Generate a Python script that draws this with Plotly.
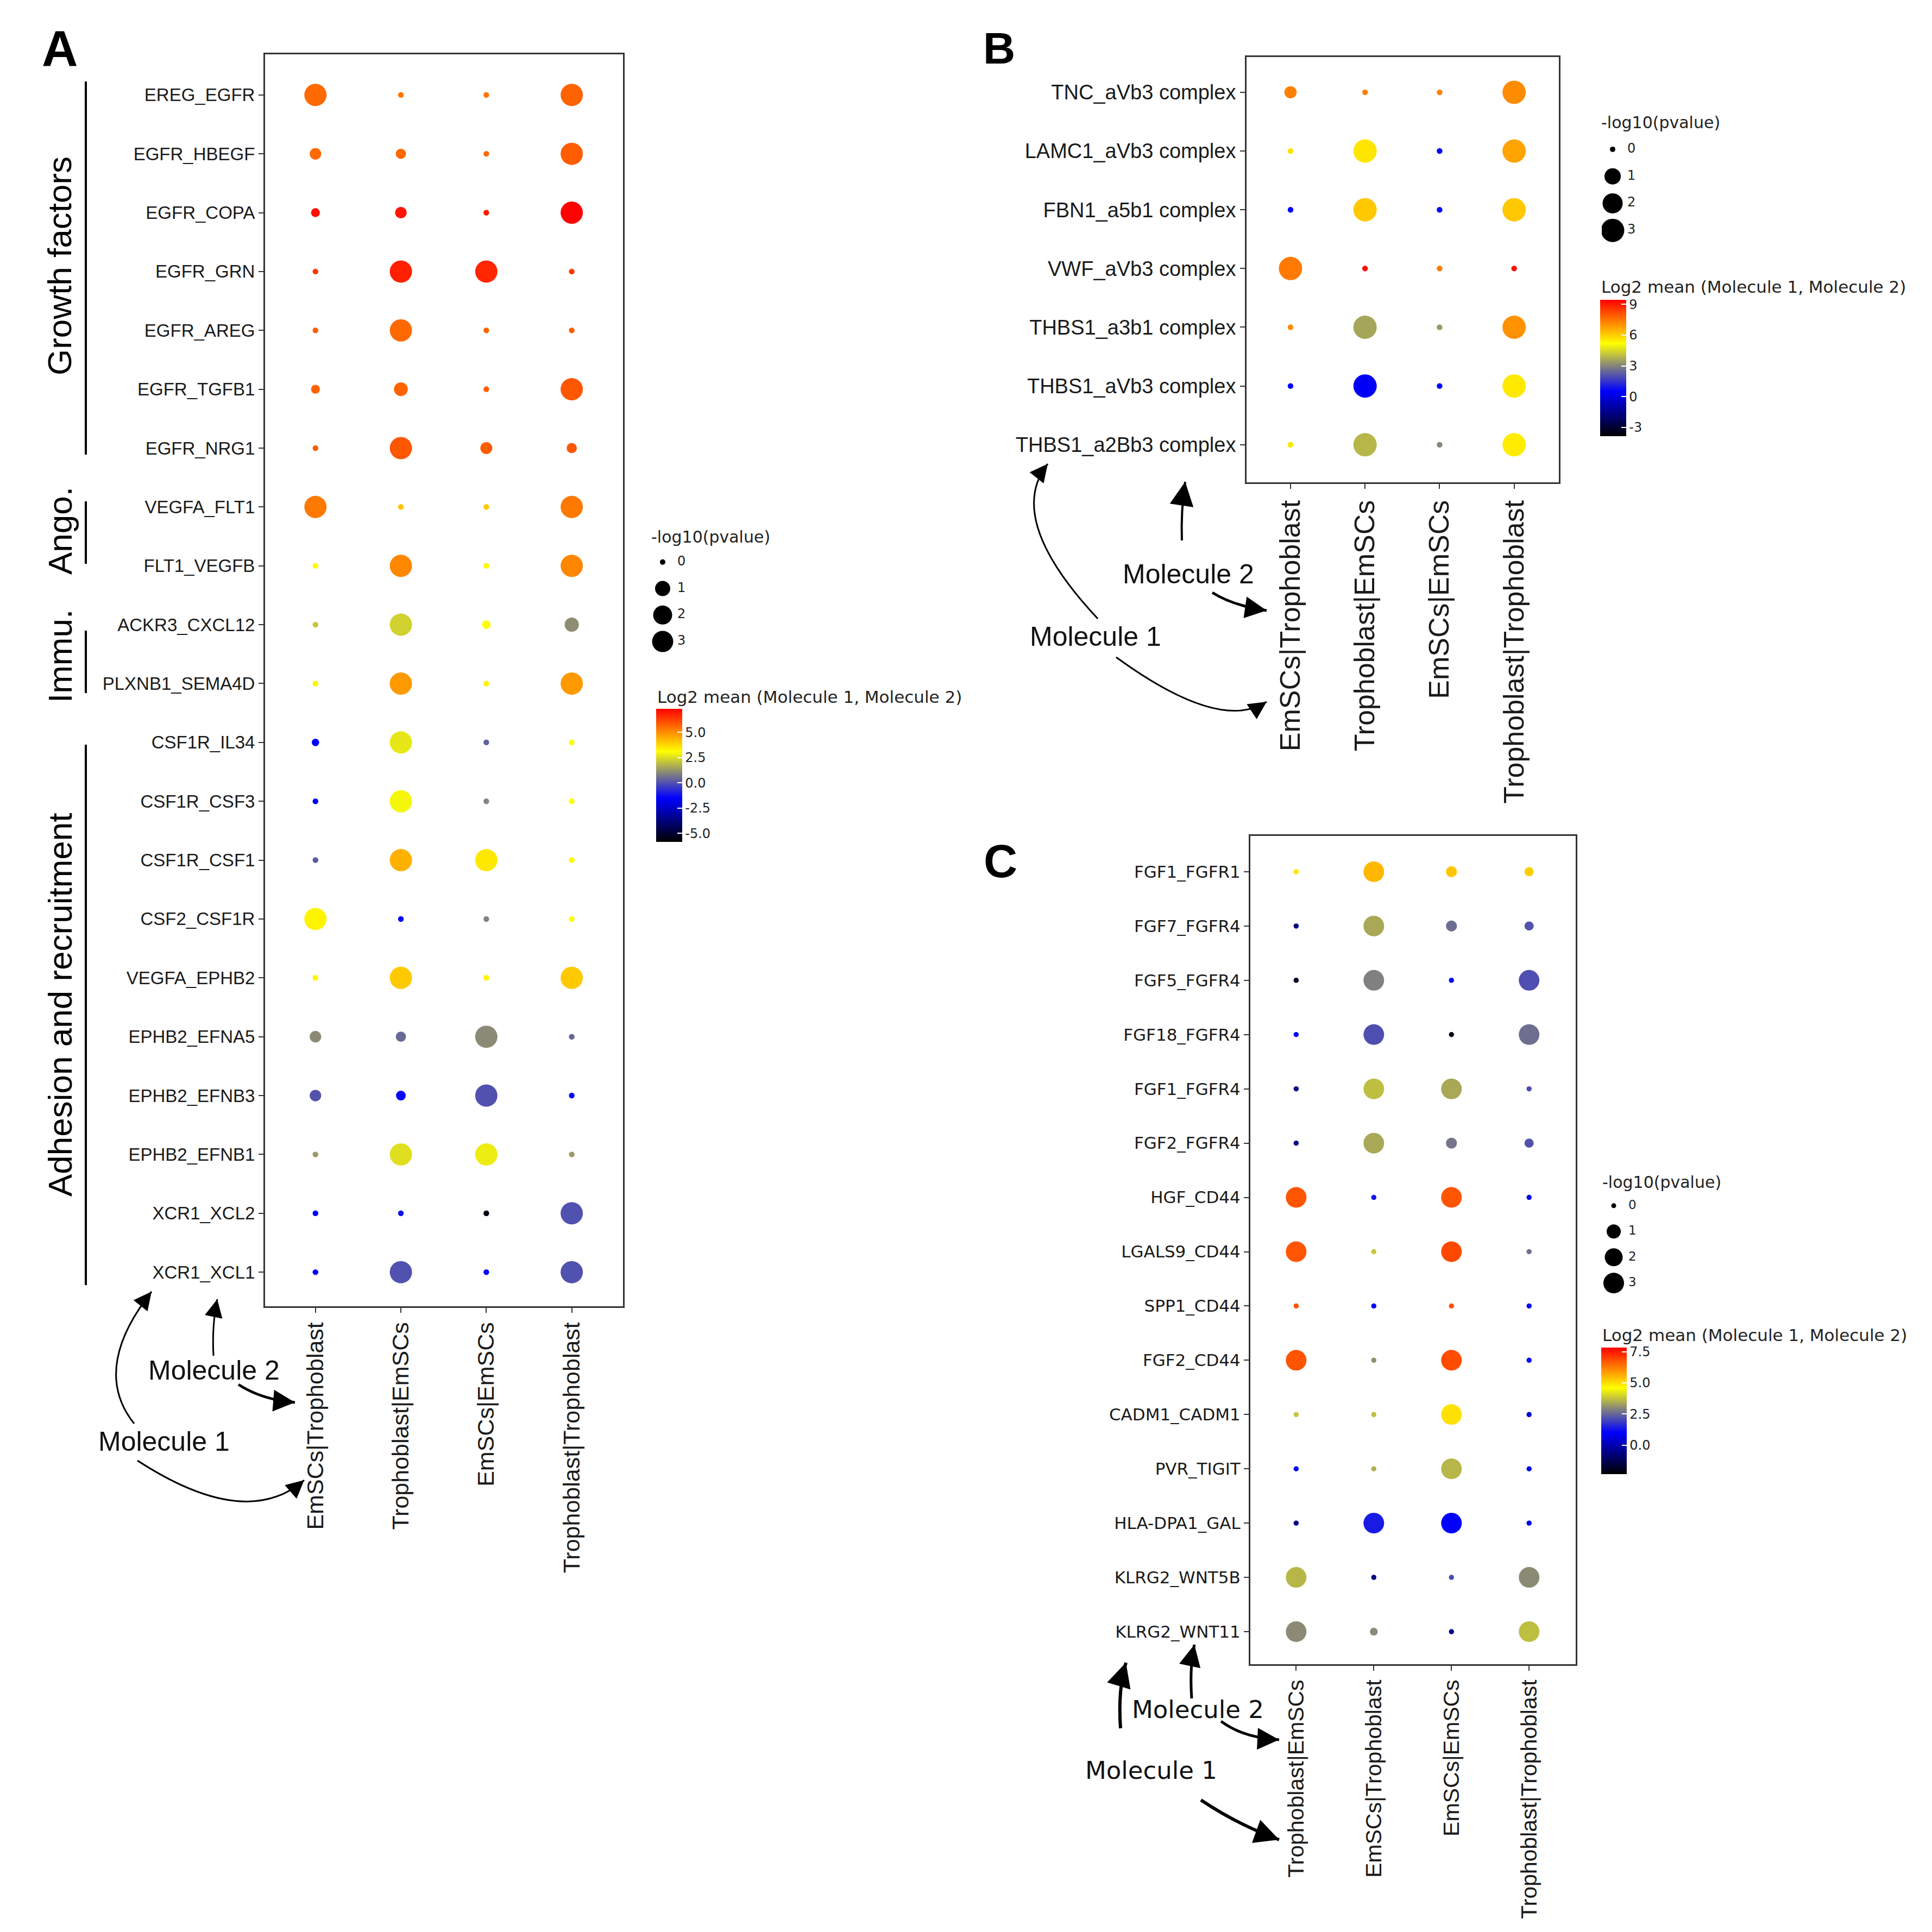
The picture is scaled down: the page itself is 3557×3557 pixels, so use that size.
import numpy as np
import plotly.graph_objects as go

W = H = 3557
OFF = 8  # default page margin of the browser body

# ---------------- Panel A data ----------------
A_PAIRS = ["EREG_EGFR", "EGFR_HBEGF", "EGFR_COPA", "EGFR_GRN", "EGFR_AREG", "EGFR_TGFB1",
           "EGFR_NRG1", "VEGFA_FLT1", "FLT1_VEGFB", "ACKR3_CXCL12", "PLXNB1_SEMA4D",
           "CSF1R_IL34", "CSF1R_CSF3", "CSF1R_CSF1", "CSF2_CSF1R", "VEGFA_EPHB2",
           "EPHB2_EFNA5", "EPHB2_EFNB3", "EPHB2_EFNB1", "XCR1_XCL2", "XCR1_XCL1"]
A_CLUSTERS = ["EmSCs|Trophoblast", "Trophoblast|EmSCs", "EmSCs|EmSCs", "Trophoblast|Trophoblast"]
A_MEAN = [
    [5.6, 5.4, 5.4, 5.7],
    [5.6, 5.6, 5.6, 5.8],
    [7.1, 7.0, 6.9, 7.3],
    [6.4, 6.8, 6.7, 6.4],
    [5.8, 5.6, 5.7, 5.8],
    [5.7, 5.7, 5.8, 5.9],
    [5.8, 5.9, 5.8, 5.9],
    [5.35, 4.1, 4.0, 5.35],
    [3.2, 5.1, 3.2, 5.1],
    [2.1, 2.3, 3.1, 1.1],
    [3.3, 4.8, 3.3, 4.8],
    [-1.6, 2.7, 0.3, 3.1],
    [-1.6, 2.95, 0.95, 3.1],
    [0.2, 4.4, 3.5, 3.2],
    [3.3, -1.6, 0.95, 3.2],
    [3.3, 4.0, 3.3, 4.0],
    [1.06, 0.45, 1.06, 0.4],
    [0.05, -1.4, 0.0, -1.5],
    [1.35, 2.55, 2.8, 1.35],
    [-1.5, -1.2, -5.5, 0.0],
    [-1.5, 0.0, -1.5, 0.0],
]
A_LOGP = [
    [3, 0, 0, 3],
    [0.65, 0.5, 0, 3],
    [0.35, 0.65, 0, 3],
    [0, 3, 3, 0],
    [0, 3, 0, 0],
    [0.35, 0.9, 0, 3],
    [0, 3, 0.7, 0.5],
    [3, 0, 0, 3],
    [0, 3, 0, 3],
    [0, 3, 0.3, 0.95],
    [0, 3, 0, 3],
    [0.2, 3, 0, 0],
    [0, 3, 0, 0],
    [0, 3, 3, 0],
    [3, 0, 0, 0],
    [0, 3, 0, 3],
    [0.65, 0.5, 3, 0],
    [0.65, 0.45, 3, 0],
    [0, 3, 3, 0],
    [0, 0, 0, 3],
    [0, 3, 0, 3],
]

# ---------------- Panel B data ----------------
B_PAIRS = ["TNC_aVb3 complex", "LAMC1_aVb3 complex", "FBN1_a5b1 complex", "VWF_aVb3 complex",
           "THBS1_a3b1 complex", "THBS1_aVb3 complex", "THBS1_a2Bb3 complex"]
B_CLUSTERS = ["EmSCs|Trophoblast", "Trophoblast|EmSCs", "EmSCs|EmSCs", "Trophoblast|Trophoblast"]
B_MEAN = [
    [7.3, 7.3, 7.3, 7.1],
    [5.7, 5.6, 0.5, 6.7],
    [0.5, 6.1, 0.5, 6.1],
    [7.4, 9.2, 7.4, 9.2],
    [7.1, 3.6, 3.4, 7.0],
    [0.5, 0.4, 0.5, 5.55],
    [5.6, 3.9, 3.06, 5.5],
]
B_LOGP = [
    [0.65, 0, 0, 3],
    [0, 3, 0, 3],
    [0, 3, 0, 3],
    [3, 0, 0, 0],
    [0, 3, 0, 3],
    [0, 3, 0, 3],
    [0, 3, 0, 3],
]

# ---------------- Panel C data ----------------
C_PAIRS = ["FGF1_FGFR1", "FGF7_FGFR4", "FGF5_FGFR4", "FGF18_FGFR4", "FGF1_FGFR4", "FGF2_FGFR4",
           "HGF_CD44", "LGALS9_CD44", "SPP1_CD44", "FGF2_CD44", "CADM1_CADM1", "PVR_TIGIT",
           "HLA-DPA1_GAL", "KLRG2_WNT5B", "KLRG2_WNT11"]
C_CLUSTERS = ["Trophoblast|EmSCs", "EmSCs|Trophoblast", "EmSCs|EmSCs", "Trophoblast|Trophoblast"]
C_MEAN = [
    [4.9, 5.5, 5.3, 5.2],
    [-0.6, 3.4, 2.6, 2.2],
    [-1.9, 2.85, 1.0, 2.15],
    [0.9, 2.15, -2.1, 2.6],
    [-0.6, 3.7, 3.4, 2.1],
    [-0.6, 3.4, 2.7, 2.2],
    [6.75, 1.3, 6.75, 0.8],
    [6.75, 3.8, 6.9, 2.6],
    [6.8, 0.9, 6.8, 0.9],
    [6.75, 3.05, 6.85, 0.9],
    [3.8, 3.7, 4.96, 0.6],
    [0.8, 3.5, 3.6, 0.8],
    [-0.5, 1.4, 1.0, 0.8],
    [3.6, -0.6, 2.1, 3.0],
    [3.0, 3.0, -0.6, 3.7],
]
C_LOGP = [
    [0, 3, 0.65, 0.45],
    [0, 3, 0.65, 0.45],
    [0, 3, 0, 3],
    [0, 3, 0, 3],
    [0, 3, 3, 0],
    [0, 3, 0.65, 0.45],
    [3, 0, 3, 0],
    [3, 0, 3, 0],
    [0, 0, 0, 0],
    [3, 0, 3, 0],
    [0, 0, 3, 0],
    [0, 0, 3, 0],
    [0, 3, 3, 0],
    [3, 0, 0, 3],
    [3, 0.3, 0, 3],
]

LEGEND_VALUES = [0, 1, 2, 3]
A_CBAR_TICKS = [-5.0, -2.5, 0.0, 2.5, 5.0]
B_CBAR_TICKS = [-3, 0, 3, 6, 9]
C_CBAR_TICKS = [0.0, 2.5, 5.0, 7.5]

# ---------------- styling helpers ----------------
CSCALE = [[0, "#000000"], [0.33, "#0000FF"], [0.51, "#808080"], [0.68, "#FFFF00"], [1, "#FF0000"]]
SANS = "Liberation Sans, Arial, sans-serif"
DJV = "DejaVu Sans, sans-serif"


def size_fn(vals, rng):
    return list(np.interp(np.asarray(vals, dtype=float), [0, 1, 2, 3], rng))


def px(x):
    return (x - OFF) / W


def py(y):
    return 1 - (y - OFF) / H


fig = go.Figure()


def add_panel(pairs, clusters, mean, logp, xa, ya, cax, srng):
    xs, ys, cs, ss = [], [], [], []
    for i, p in enumerate(pairs):
        for j, c in enumerate(clusters):
            xs.append(c)
            ys.append(p)
            cs.append(mean[i][j])
            ss.append(logp[i][j])
    fig.add_trace(go.Scatter(
        x=xs, y=ys, mode="markers", xaxis=xa, yaxis=ya, showlegend=False,
        marker=dict(size=size_fn(ss, srng), color=cs, coloraxis=cax, line=dict(width=0), opacity=1),
        hoverinfo="skip"))


SR_A = [10.5, 27, 34, 41]
SR_B = [10.5, 29, 36, 43]
SR_C = [9.5, 26, 33, 38]

add_panel(A_PAIRS, A_CLUSTERS, A_MEAN, A_LOGP, "x", "y", "coloraxis", SR_A)
add_panel(B_PAIRS, B_CLUSTERS, B_MEAN, B_LOGP, "x2", "y2", "coloraxis2", SR_B)
add_panel(C_PAIRS, C_CLUSTERS, C_MEAN, C_LOGP, "x3", "y3", "coloraxis3", SR_C)


def add_size_legend(xa, ya, srng, fsize):
    fig.add_trace(go.Scatter(
        x=[0] * len(LEGEND_VALUES), y=LEGEND_VALUES, mode="markers", xaxis=xa, yaxis=ya,
        showlegend=False, hoverinfo="skip",
        marker=dict(size=size_fn(LEGEND_VALUES, srng), color="#000000", opacity=1,
                    line=dict(width=0))))
    fig.add_trace(go.Scatter(
        x=[0.27] * len(LEGEND_VALUES), y=LEGEND_VALUES, mode="text", xaxis=xa, yaxis=ya,
        text=[str(v) for v in LEGEND_VALUES], textposition="middle right",
        textfont=dict(size=fsize, family=DJV, color="#222"), showlegend=False, hoverinfo="skip"))


add_size_legend("x4", "y4", [10, 28, 35, 39], 24)
add_size_legend("x5", "y5", [10, 30, 37, 43], 24)
add_size_legend("x6", "y6", [9, 26, 33, 38], 23)

AX_LINE = dict(showline=True, mirror=True, linecolor="#333333", linewidth=3, ticks="outside",
               ticklen=9, tickwidth=2, tickcolor="#333333", showgrid=False, zeroline=False,
               fixedrange=True)


def cat_x(domain, cats, fsize, anchor):
    return dict(domain=domain, type="category", categoryorder="array", categoryarray=cats,
                range=[-0.59, len(cats) - 1 + 0.6], tickangle=-90, anchor=anchor,
                tickfont=dict(size=fsize, family=SANS, color="#1a1a1a"), **AX_LINE)


def cat_y(domain, cats, fsize, anchor, top, bot, fam=SANS):
    return dict(domain=domain, type="category", categoryorder="array", categoryarray=cats,
                range=[len(cats) - 1 + bot, -top], anchor=anchor,
                tickfont=dict(size=fsize, family=fam, color="#1a1a1a"), **AX_LINE)


def hidden(domain, rng, anchor):
    return dict(domain=domain, range=rng, visible=False, anchor=anchor, fixedrange=True)


def cbar(x, ytop, length, thick, ticks, labels):
    return dict(x=px(x), xanchor="left", y=py(ytop), yanchor="top", len=length, lenmode="pixels",
                thickness=thick, thicknessmode="pixels", xpad=0, ypad=0, outlinewidth=0,
                tickvals=ticks, ticktext=labels, ticks="inside", tickcolor="white", ticklen=9,
                tickwidth=2, tickfont=dict(size=24, family=DJV, color="#222"), title=dict(text=""))


layout = dict(
    width=W, height=H, margin=dict(l=0, r=0, t=0, b=0, pad=0),
    paper_bgcolor="white", plot_bgcolor="white", showlegend=False,
    xaxis=cat_x([px(488), px(1147)], A_CLUSTERS, 43, "y"),
    yaxis=cat_y([py(2405), py(100)], A_PAIRS, 33, "x", 0.69, 0.58),
    xaxis2=cat_x([px(2295), px(2870)], B_CLUSTERS, 52, "y2"),
    yaxis2=cat_y([py(888), py(105)], B_PAIRS, 38, "x2", 0.6, 0.64),
    xaxis3=cat_x([px(2302), px(2901)], C_CLUSTERS, 41, "y3"),
    yaxis3=cat_y([py(3064), py(1539)], C_PAIRS, 31, "x3", 0.66, 0.6, fam=DJV),
    xaxis4=hidden([px(1200), px(1320)], [-0.2, 1.0], "y4"),
    yaxis4=hidden([py(1205.5), py(1010.5)], [3.5, -0.5], "x4"),
    xaxis5=hidden([px(2949), px(3069)], [-0.2, 1.0], "y5"),
    yaxis5=hidden([py(449), py(250)], [3.5, -0.5], "x5"),
    xaxis6=hidden([px(2951), px(3071)], [-0.2, 1.0], "y6"),
    yaxis6=hidden([py(2386), py(2196)], [3.5, -0.5], "x6"),
    coloraxis=dict(cmin=-5.84, cmax=7.33, colorscale=CSCALE,
                   colorbar=cbar(1208, 1305, 245, 48, A_CBAR_TICKS, ["%.1f" % t for t in A_CBAR_TICKS])),
    coloraxis2=dict(cmin=-3.85, cmax=9.44, colorscale=CSCALE,
                    colorbar=cbar(2946, 552, 251, 48, B_CBAR_TICKS, [str(t) for t in B_CBAR_TICKS])),
    coloraxis3=dict(cmin=-2.33, cmax=7.83, colorscale=CSCALE,
                    colorbar=cbar(2948, 2481, 233, 47, C_CBAR_TICKS, ["%.1f" % t for t in C_CBAR_TICKS])),
)
fig.update_layout(**layout)

annotations = []
shapes = []


def text(x, y, s, size, fam=SANS, xanchor="center", angle=0, bold=False, color="#111"):
    annotations.append(dict(x=px(x), y=py(y), xref="paper", yref="paper", text=("<b>%s</b>" % s) if bold else s,
                            showarrow=False, xanchor=xanchor, yanchor="middle", textangle=angle,
                            font=dict(size=size, family=fam, color=color)))


# panel letters
text(110, 89, "A", 92, bold=True, color="black")
text(1840, 88, "B", 82, bold=True, color="black")
text(1842, 1585, "C", 86, bold=True, color="black")

# legend titles
for (lx, ly, cx_, cy_) in [(1197, 988, 1208, 1283), (2946, 226, 2946, 528), (2948, 2176, 2948, 2458)]:
    text(lx, ly, "-log10(pvalue)", 30, fam=DJV, xanchor="left", color="#222")
    text(cx_, cy_, "Log2 mean (Molecule 1, Molecule 2)", 31, fam=DJV, xanchor="left", color="#222")

# group labels and bars in panel A
GROUPS = [("Growth factors", 150, 837, 490), ("Ango.", 923, 1038, 977),
          ("Immu.", 1161, 1276, 1208), ("Adhesion and recruitment", 1371, 2366, 1850)]
for label, y0, y1, yc in GROUPS:
    text(110, yc, label, 62, angle=-90, color="black")
    shapes.append(dict(type="line", xref="paper", yref="paper", x0=px(158), x1=px(158),
                       y0=py(y0), y1=py(y1), line=dict(color="black", width=4)))


def curve(p0, c, p1, w, head=2.2):
    path = "M %.5f,%.5f Q %.5f,%.5f %.5f,%.5f" % (px(p0[0]), py(p0[1]), px(c[0]), py(c[1]),
                                                   px(p1[0]), py(p1[1]))
    shapes.append(dict(type="path", xref="paper", yref="paper", path=path,
                       line=dict(color="black", width=w)))
    dx, dy = p1[0] - c[0], p1[1] - c[1]
    n = np.hypot(dx, dy)
    L = 22
    annotations.append(dict(x=px(p1[0]), y=py(p1[1]), xref="paper", yref="paper",
                            ax=-dx / n * L, ay=-dy / n * L, axref="pixel", ayref="pixel",
                            text="", showarrow=True, arrowhead=2, arrowsize=head, arrowwidth=w,
                            arrowcolor="black", standoff=0))


# panel A molecule annotations
text(394, 2523, "Molecule 2", 50, color="#111")
text(302, 2654, "Molecule 1", 50, color="#111")
curve((247, 2621), (167, 2521), (279, 2378), 3)
curve((253, 2689), (453, 2819), (560, 2725), 3)
curve((393, 2496), (390, 2440), (400, 2392), 3)
curve((439, 2549), (482, 2577), (543, 2582), 5, 1.6)

# panel B molecule annotations
text(2188, 1057, "Molecule 2", 50, color="#111")
text(2017, 1172, "Molecule 1", 50, color="#111")
curve((2021, 1139), (1849, 955), (1929, 854), 3)
curve((2055, 1210), (2246, 1349), (2332, 1292), 3)
curve((2176, 995), (2174, 940), (2182, 887), 4)
curve((2232, 1091), (2270, 1115), (2332, 1124), 5, 1.6)

# panel C molecule annotations
text(2205, 3147, "Molecule 2", 45, fam=DJV, color="#111")
text(2119, 3259, "Molecule 1", 45, fam=DJV, color="#111")
curve((2063, 3182), (2058, 3110), (2073, 3061), 6, 1.5)
curve((2194, 3127), (2190, 3070), (2199, 3028), 5, 1.6)
curve((2248, 3169), (2290, 3200), (2355, 3203), 5, 1.6)
curve((2211, 3314), (2280, 3360), (2355, 3387), 6, 1.5)

fig.update_layout(annotations=annotations, shapes=shapes)
fig.write_html("out.html")
